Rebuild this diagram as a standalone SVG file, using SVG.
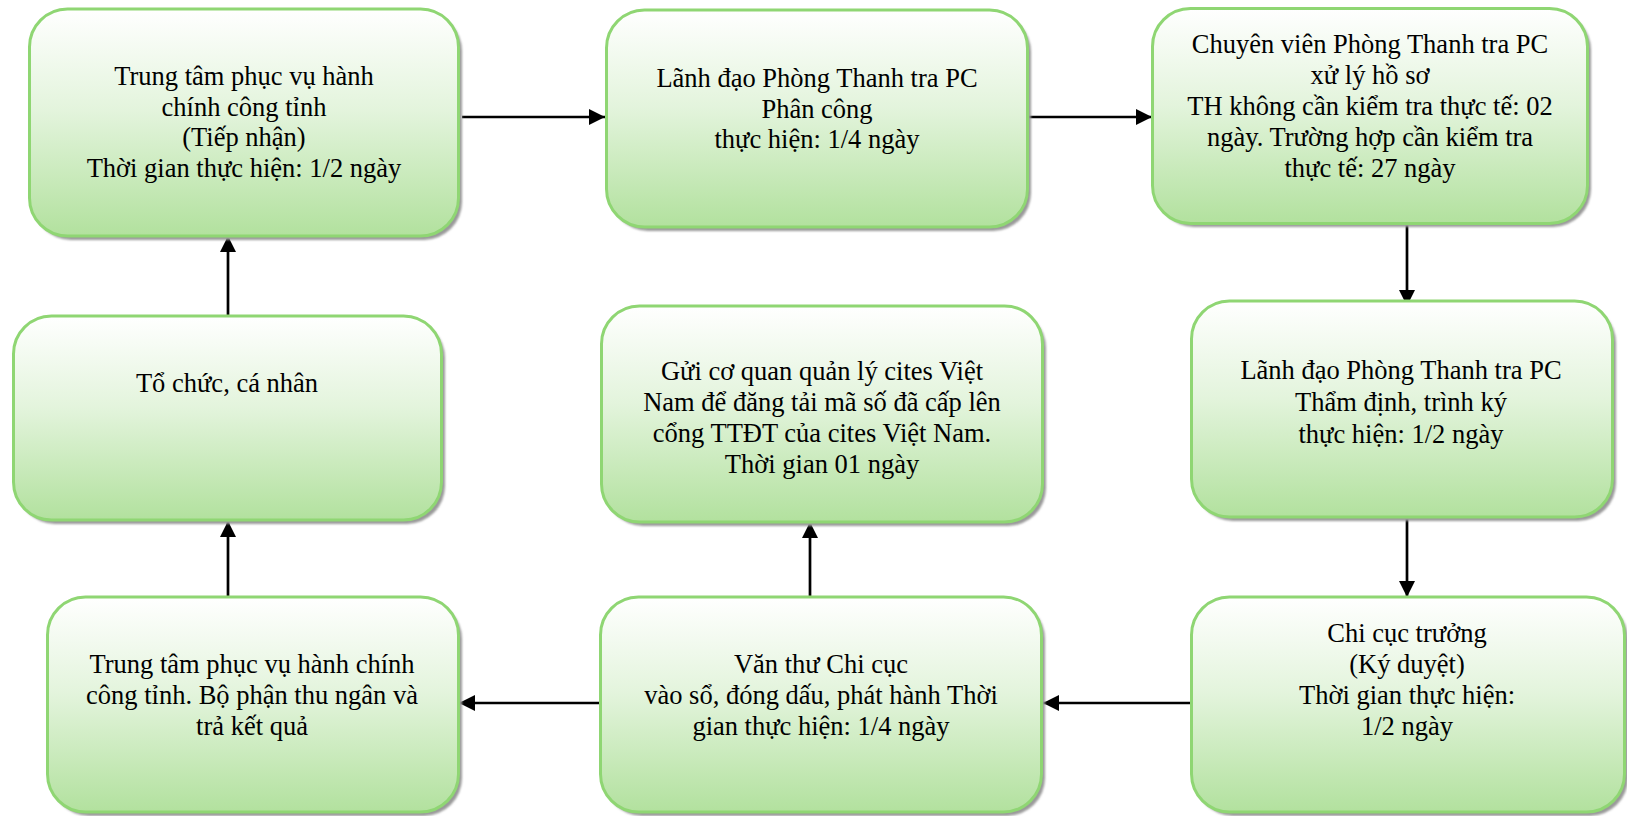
<svg xmlns="http://www.w3.org/2000/svg" width="1627" height="816" viewBox="0 0 1627 816">
  <style>
    .box { fill: url(#greenFill); stroke: #8fd673; stroke-width: 3; }
    .shadow { fill: #9a9a9a; filter: url(#soft); }
    .label { font-family: "Liberation Serif", "Times New Roman", serif; font-size: 26.5px; fill: #000; text-anchor: middle; }
    .link { stroke: #000; stroke-width: 2.7; fill: none; marker-end: url(#head); }
  </style>
  <defs>
    <linearGradient id="greenFill" x1="0" y1="0" x2="0" y2="1">
      <stop offset="0" stop-color="#ffffff"/>
      <stop offset="0.45" stop-color="#e3f4dc"/>
      <stop offset="1" stop-color="#b2e19e"/>
    </linearGradient>
    <filter id="soft" x="-5%" y="-5%" width="110%" height="110%">
      <feGaussianBlur stdDeviation="1.2"/>
    </filter>
    <!-- solid arrowhead, sized in user units so every connector gets the same head -->
    <marker id="head" markerUnits="userSpaceOnUse" markerWidth="17" markerHeight="16" refX="16" refY="8" orient="auto">
      <path d="M0,0 L16,8 L0,16 Z" fill="#000"/>
    </marker>
  </defs>

  <rect width="1627" height="816" fill="#ffffff"/>

  <!-- connectors -->
  <g id="connectors">
    <line class="link" x1="462" y1="117" x2="605" y2="117"/>
    <line class="link" x1="1029" y1="117" x2="1152" y2="117"/>
    <line class="link" x1="1407" y1="224" x2="1407" y2="306"/>
    <line class="link" x1="1407" y1="518" x2="1407" y2="597"/>
    <line class="link" x1="1191" y1="703" x2="1043" y2="703"/>
    <line class="link" x1="600" y1="703" x2="459" y2="703"/>
    <line class="link" x1="810" y1="597" x2="810" y2="522"/>
    <line class="link" x1="228" y1="597" x2="228" y2="521"/>
    <line class="link" x1="228" y1="316" x2="228" y2="236"/>
  </g>

  <!-- Trung tâm phục vụ hành chính công tỉnh (Tiếp nhận) -->
  <g id="node-tiep-nhan">
    <rect class="shadow" x="33" y="13" width="429" height="227" rx="38"/>
    <rect class="box" x="29.5" y="9" width="429" height="227" rx="38"/>
    <text class="label" x="244" y="85">Trung tâm phục vụ hành</text>
    <text class="label" x="244" y="115.5">chính công tỉnh</text>
    <text class="label" x="244" y="146">(Tiếp nhận)</text>
    <text class="label" x="244" y="176.5">Thời gian thực hiện: 1/2 ngày</text>
  </g>

  <!-- Lãnh đạo Phòng Thanh tra PC - Phân công -->
  <g id="node-phan-cong">
    <rect class="shadow" x="610" y="14" width="421" height="217" rx="38"/>
    <rect class="box" x="606.5" y="10" width="421" height="217" rx="38"/>
    <text class="label" x="817" y="87">Lãnh đạo Phòng Thanh tra PC</text>
    <text class="label" x="817" y="117.5">Phân công</text>
    <text class="label" x="817" y="148">thực hiện: 1/4 ngày</text>
  </g>

  <!-- Chuyên viên Phòng Thanh tra PC xử lý hồ sơ -->
  <g id="node-xu-ly">
    <rect class="shadow" x="1156" y="12" width="435" height="215" rx="38"/>
    <rect class="box" x="1152.5" y="8.5" width="435" height="215" rx="38"/>
    <text class="label" x="1370" y="53">Chuyên viên Phòng Thanh tra PC</text>
    <text class="label" x="1370" y="84">xử lý hồ sơ</text>
    <text class="label" x="1370" y="115">TH không cần kiểm tra thực tế: 02</text>
    <text class="label" x="1370" y="146">ngày. Trường hợp cần kiểm tra</text>
    <text class="label" x="1370" y="177">thực tế: 27 ngày</text>
  </g>

  <!-- Tổ chức, cá nhân -->
  <g id="node-to-chuc">
    <rect class="shadow" x="17" y="320" width="428" height="204" rx="38"/>
    <rect class="box" x="13.5" y="316" width="428" height="204" rx="38"/>
    <text class="label" x="227" y="392">Tổ chức, cá nhân</text>
  </g>

  <!-- Gửi cơ quan quản lý cites Việt Nam -->
  <g id="node-cites">
    <rect class="shadow" x="605" y="310" width="441" height="216" rx="38"/>
    <rect class="box" x="601.5" y="306" width="441" height="216" rx="38"/>
    <text class="label" x="822" y="380">Gửi cơ quan quản lý cites Việt</text>
    <text class="label" x="822" y="411">Nam để đăng tải mã số đã cấp lên</text>
    <text class="label" x="822" y="442">cổng TTĐT của cites Việt Nam.</text>
    <text class="label" x="822" y="473">Thời gian 01 ngày</text>
  </g>

  <!-- Lãnh đạo Phòng Thanh tra PC - Thẩm định, trình ký -->
  <g id="node-tham-dinh">
    <rect class="shadow" x="1195" y="305" width="421" height="216" rx="38"/>
    <rect class="box" x="1191.5" y="301" width="421" height="216" rx="38"/>
    <text class="label" x="1401" y="379">Lãnh đạo Phòng Thanh tra PC</text>
    <text class="label" x="1401" y="411">Thẩm định, trình ký</text>
    <text class="label" x="1401" y="443">thực hiện: 1/2 ngày</text>
  </g>

  <!-- Trung tâm phục vụ hành chính công tỉnh - thu ngân, trả kết quả -->
  <g id="node-tra-ket-qua">
    <rect class="shadow" x="51" y="601" width="411" height="215" rx="38"/>
    <rect class="box" x="47.5" y="597" width="411" height="215" rx="38"/>
    <text class="label" x="252" y="673">Trung tâm phục vụ hành chính</text>
    <text class="label" x="252" y="704">công tỉnh. Bộ phận thu ngân và</text>
    <text class="label" x="252" y="735">trả kết quả</text>
  </g>

  <!-- Văn thư Chi cục -->
  <g id="node-van-thu">
    <rect class="shadow" x="604" y="601" width="441" height="215" rx="38"/>
    <rect class="box" x="600.5" y="597" width="441" height="215" rx="38"/>
    <text class="label" x="821" y="673">Văn thư Chi cục</text>
    <text class="label" x="821" y="704">vào sổ, đóng dấu, phát hành Thời</text>
    <text class="label" x="821" y="735">gian thực hiện: 1/4 ngày</text>
  </g>

  <!-- Chi cục trưởng (Ký duyệt) -->
  <g id="node-ky-duyet">
    <rect class="shadow" x="1195" y="601" width="433" height="215" rx="38"/>
    <rect class="box" x="1191.5" y="597" width="433" height="215" rx="38"/>
    <text class="label" x="1407" y="642">Chi cục trưởng</text>
    <text class="label" x="1407" y="673">(Ký duyệt)</text>
    <text class="label" x="1407" y="704">Thời gian thực hiện:</text>
    <text class="label" x="1407" y="735">1/2 ngày</text>
  </g>
</svg>
